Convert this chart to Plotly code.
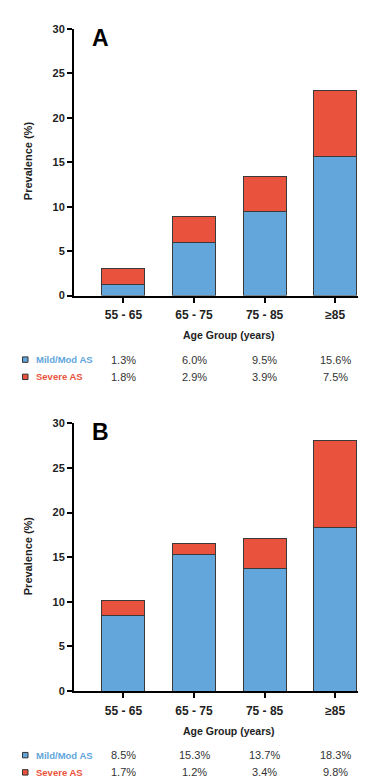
import plotly.graph_objects as go

categories = ["55 - 65", "65 - 75", "75 - 85", "≥85"]
mild_a = [1.3, 6.0, 9.5, 15.6]
severe_a = [1.8, 2.9, 3.9, 7.5]
mild_b = [8.5, 15.3, 13.7, 18.3]
severe_b = [1.7, 1.2, 3.4, 9.8]
series_names = ["Mild/Mod AS", "Severe AS"]
panel_labels = ["A", "B"]
y_ticks = [0, 5, 10, 15, 20, 25, 30]

BLUE = "#62a6dc"
RED = "#e9533d"
EDGE = "#3a3a3a"
FONT = "Liberation Sans, Arial, sans-serif"
W, H = 366, 781

def px_x(p):
    return p / W

def px_y(p):
    return 1 - p / H

fig = go.Figure()

panels = [
    dict(mild=mild_a, severe=severe_a, xa="x", ya="y", y0=286, y30=15),
    dict(mild=mild_b, severe=severe_b, xa="x2", ya="y2", y0=687.7, y30=415.7),
]

for i, p in enumerate(panels):
    for vals, color, name in [(p["mild"], BLUE, series_names[0]), (p["severe"], RED, series_names[1])]:
        fig.add_trace(go.Bar(
            x=categories, y=vals, name=name, xaxis=p["xa"], yaxis=p["ya"],
            marker=dict(color=color, line=dict(color=EDGE, width=1)),
            width=0.61, showlegend=False,
        ))

axis_common = dict(showline=True, linecolor="black", linewidth=2, ticks="outside",
                   ticklen=5, tickwidth=2, tickcolor="black", showgrid=False, zeroline=False,
                   tickfont=dict(family=FONT, size=11, color="#222", weight="bold"))

layout = dict(width=W, height=H, margin=dict(l=0, r=0, t=0, b=0), barmode="stack",
              plot_bgcolor="white", paper_bgcolor="white", bargap=0.3)

for i, p in enumerate(panels):
    suffix = "" if i == 0 else "2"
    xdom = [px_x(66), 1.0]
    ydom = [px_y(p["y0"]), px_y(p["y30"])]
    layout["xaxis" + suffix] = dict(axis_common, domain=xdom, anchor="y" + suffix,
                                    range=[-0.7, 3.55], type="category",
                                    tickfont=dict(family=FONT, size=12, color="#222", weight="bold"),
                                    ticklabelstandoff=2)
    layout["yaxis" + suffix] = dict(axis_common, domain=ydom, anchor="x" + suffix,
                                    range=[0, 30], tickvals=y_ticks)

fig.update_layout(**layout)

ann = []
for i, p in enumerate(panels):
    suffix = "" if i == 0 else "2"
    y0, y30 = p["y0"], p["y30"]
    # panel letter
    ann.append(dict(text="<b>%s</b>" % panel_labels[i], xref="paper", yref="paper",
                    x=px_x(92), y=px_y(y30 + 9), xanchor="center", yanchor="middle",
                    showarrow=False, font=dict(family=FONT, size=23, color="black")))
    # y title
    ann.append(dict(text="<b>Prevalence (%)</b>", xref="paper", yref="paper",
                    x=px_x(20), y=px_y((y0 + y30) / 2 - 1), textangle=-90,
                    xanchor="center", yanchor="middle", showarrow=False,
                    font=dict(family=FONT, size=11, color="#222")))
    # x title
    ann.append(dict(text="<b>Age Group (years)</b>", xref="paper", yref="paper",
                    x=px_x(221), y=px_y(y0 + 40), xanchor="center", yanchor="middle",
                    showarrow=False, font=dict(family=FONT, size=10.5, color="#222")))
    # table rows
    rows = [(p["mild"], BLUE, series_names[0], y0 + 65), (p["severe"], RED, series_names[1], y0 + 82.5)]
    for vals, color, name, ypx in rows:
        ann.append(dict(text="<b>%s</b>" % name, xref="paper", yref="paper",
                        x=px_x(26), y=px_y(ypx), xanchor="left", yanchor="middle",
                        showarrow=False, font=dict(family=FONT, size=9.5, color=color)))
        for c, v in zip(categories, vals):
            ann.append(dict(text="%.1f%%" % v, xref="x" + suffix, yref="paper",
                            x=c, y=px_y(ypx), xanchor="center", yanchor="middle",
                            showarrow=False, font=dict(family=FONT, size=11, color="#333")))
        fig.add_shape(type="rect", xref="paper", yref="paper",
                      x0=px_x(14.5), x1=px_x(20), y0=px_y(ypx + 2.75), y1=px_y(ypx - 2.75),
                      fillcolor=color, line=dict(color="#333", width=1))

fig.update_layout(annotations=ann)
fig.write_html("out.html")
